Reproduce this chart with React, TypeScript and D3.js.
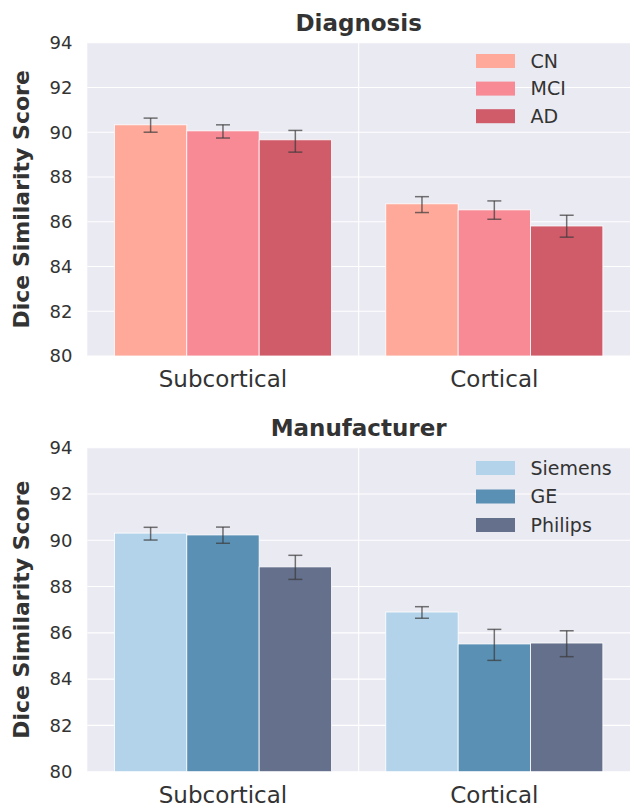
import React from "react";
import * as d3 from "d3";

const regions = ["Subcortical", "Cortical"];
const yTicks = [80, 82, 84, 86, 88, 90, 92, 94];

const diagGroups = ["CN", "MCI", "AD"];
const diagColors = ["#fea99a", "#f78a95", "#d05c6a"];
const diagMeans = [
  [90.33, 90.06, 89.66],
  [86.8, 86.53, 85.81],
];
const diagLow = [
  [90.0, 89.74, 89.11],
  [86.41, 86.11, 85.31],
];
const diagHigh = [
  [90.63, 90.33, 90.08],
  [87.12, 86.93, 86.29],
];

const manuGroups = ["Siemens", "GE", "Philips"];
const manuColors = ["#b3d3ea", "#5a90b4", "#64708c"];
const manuMeans = [
  [90.31, 90.23, 88.85],
  [86.9, 85.52, 85.56],
];
const manuLow = [
  [90.01, 89.87, 88.31],
  [86.63, 84.81, 84.97],
];
const manuHigh = [
  [90.56, 90.57, 89.35],
  [87.13, 86.15, 86.09],
];

const FONT = "DejaVu Sans, sans-serif";
const TEXT = "#333333";

type PanelProps = {
  title: string;
  groups: string[];
  colors: string[];
  means: number[][];
  low: number[][];
  high: number[][];
  top: number;
  bottom: number;
  legendTop: number;
  legendStep: number;
};

function Panel(p: PanelProps) {
  const left = 87.3;
  const right = 630;
  const y = d3.scaleLinear().domain([80, 94]).range([p.bottom, p.top]);
  const x = d3.scaleBand<string>().domain(regions).range([left, right]).padding(0);
  const inner = d3
    .scaleBand<string>()
    .domain(p.groups)
    .range([x.bandwidth() * 0.1, x.bandwidth() * 0.9])
    .padding(0);
  const mid = (left + right) / 2;
  const capW = 14;
  return (
    <g>
      <rect x={left} y={p.top} width={right - left} height={p.bottom - p.top} fill="#eaeaf2" />
      {yTicks.map((t) => (
        <line key={"g" + t} x1={left} x2={right} y1={y(t)} y2={y(t)} stroke="#ffffff" strokeWidth={1.1} />
      ))}
      <line x1={mid} x2={mid} y1={p.top} y2={p.bottom} stroke="#ffffff" strokeWidth={1.1} />
      {yTicks.map((t) => (
        <text
          key={"t" + t}
          x={72.5}
          y={y(t)}
          dy="0.35em"
          textAnchor="end"
          fontFamily={FONT}
          fontSize={18}
          fill={TEXT}
        >
          {t}
        </text>
      ))}
      {regions.map((r, ri) =>
        p.groups.map((g, gi) => {
          const bx = (x(r) as number) + (inner(g) as number);
          const bw = inner.bandwidth();
          const v = p.means[ri][gi];
          return (
            <rect
              key={r + g}
              x={bx}
              y={y(v)}
              width={bw}
              height={y(80) - y(v)}
              fill={p.colors[gi]}
              stroke="#ffffff"
              strokeWidth={0.8}
            />
          );
        })
      )}
      {regions.map((r, ri) =>
        p.groups.map((g, gi) => {
          const cx = (x(r) as number) + (inner(g) as number) + inner.bandwidth() / 2;
          const lo = y(p.low[ri][gi]);
          const hi = y(p.high[ri][gi]);
          return (
            <g key={"e" + r + g} stroke="#3a3a3a" strokeOpacity={0.7} strokeWidth={1.5}>
              <line x1={cx} x2={cx} y1={lo} y2={hi} />
              <line x1={cx - capW / 2} x2={cx + capW / 2} y1={lo} y2={lo} />
              <line x1={cx - capW / 2} x2={cx + capW / 2} y1={hi} y2={hi} />
            </g>
          );
        })
      )}
      {regions.map((r) => (
        <text
          key={"x" + r}
          x={(x(r) as number) + x.bandwidth() / 2}
          y={p.bottom + 31}
          textAnchor="middle"
          fontFamily={FONT}
          fontSize={23}
          fill={TEXT}
        >
          {r}
        </text>
      ))}
      <text
        x={mid}
        y={p.top - 11.3}
        textAnchor="middle"
        fontFamily={FONT}
        fontSize={23}
        fontWeight="bold"
        fill={TEXT}
      >
        {p.title}
      </text>
      <text
        transform={`translate(29,${(p.top + p.bottom) / 2}) rotate(-90)`}
        textAnchor="middle"
        fontFamily={FONT}
        fontSize={22}
        fontWeight="bold"
        fill={TEXT}
      >
        Dice Similarity Score
      </text>
      {p.groups.map((g, gi) => (
        <g key={"l" + g}>
          <rect
            x={476}
            y={p.top + p.legendTop + gi * p.legendStep}
            width={39}
            height={14}
            fill={p.colors[gi]}
          />
          <text
            x={530.5}
            y={p.top + p.legendTop + gi * p.legendStep + 7}
            dy="0.35em"
            fontFamily={FONT}
            fontSize={19}
            fill={TEXT}
          >
            {g}
          </text>
        </g>
      ))}
    </g>
  );
}

export default function App() {
  return (
    <svg
      width={630}
      height={806}
      style={{ position: "absolute", left: 0, top: 0, background: "#ffffff" }}
    >
      <Panel
        title="Diagnosis"
        groups={diagGroups}
        colors={diagColors}
        means={diagMeans}
        low={diagLow}
        high={diagHigh}
        top={42.7}
        bottom={356}
        legendTop={11.3}
        legendStep={27.6}
      />
      <Panel
        title="Manufacturer"
        groups={manuGroups}
        colors={manuColors}
        means={manuMeans}
        low={manuLow}
        high={manuHigh}
        top={447.7}
        bottom={771.7}
        legendTop={13.3}
        legendStep={28.5}
      />
    </svg>
  );
}
